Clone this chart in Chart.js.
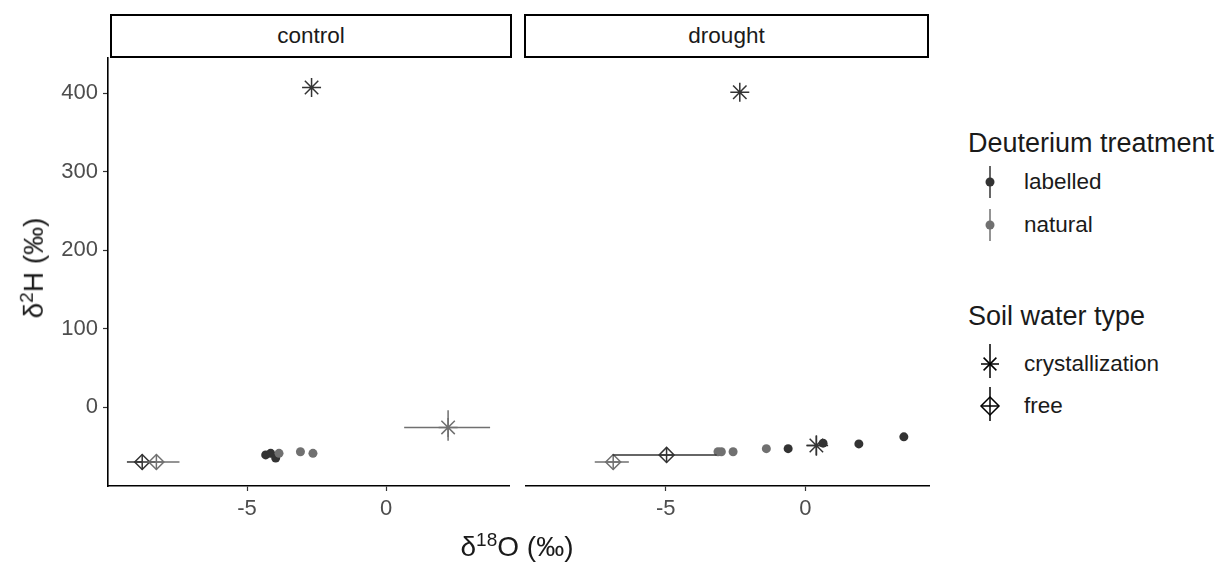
<!DOCTYPE html>
<html>
<head>
<meta charset="utf-8">
<script src="https://cdn.jsdelivr.net/npm/chart.js@4.4.1/dist/chart.umd.min.js"></script>
<style>
  body { margin: 0; background: #fff; font-family: "Liberation Sans", Arial, sans-serif; }
  #wrap { position: relative; width: 1220px; height: 567px; overflow: hidden; }
  canvas { position: absolute; top: 40px; }
  .strip { position: absolute; top: 14px; height: 40px; border: 2px solid #000; background: #fff;
           font-size: 22.5px; color: #1a1a1a; text-align: center; line-height: 40px; }
  .title { position: absolute; color: #1a1a1a; font-size: 28px; white-space: nowrap; }
  .title sup { font-size: 19px; }
  .leg { position: absolute; white-space: nowrap; }
  .legTitle { font-size: 27px; color: #1a1a1a; }
  .legItem { font-size: 22.5px; color: #1a1a1a; }
  svg { position: absolute; overflow: visible; }
</style>
</head>
<body>
<div id="wrap">
  <canvas id="cControl" width="520" height="500" style="left:0px"></canvas>
  <canvas id="cDrought" width="430" height="500" style="left:515px"></canvas>

  <div class="strip" style="left:110px; width:398px">control</div>
  <div class="strip" style="left:524px; width:401px">drought</div>

  <div class="title" style="left:517px; top:529px; transform: translateX(-50%)">&delta;<sup>18</sup>O (&permil;)</div>
  <div class="title" style="left:33px; top:268px; transform: translate(-50%,-50%) rotate(-90deg)">&delta;<sup>2</sup>H (&permil;)</div>

  <div class="leg legTitle" style="left:968px; top:128px">Deuterium treatment</div>
  <svg style="left:990px; top:182px" width="1" height="1">
    <line x1="0" y1="-16" x2="0" y2="16" stroke="#333" stroke-width="1.5"/>
    <circle cx="0" cy="0" r="4.5" fill="#333"/>
  </svg>
  <div class="leg legItem" style="left:1024px; top:169px">labelled</div>
  <svg style="left:990px; top:225px" width="1" height="1">
    <line x1="0" y1="-16" x2="0" y2="16" stroke="#707070" stroke-width="1.5"/>
    <circle cx="0" cy="0" r="4.5" fill="#707070"/>
  </svg>
  <div class="leg legItem" style="left:1024px; top:212px">natural</div>

  <div class="leg legTitle" style="left:968px; top:301px">Soil water type</div>
  <svg style="left:990px; top:364px" width="1" height="1" stroke="#000" stroke-width="1.5" fill="none">
    <line x1="0" y1="-20" x2="0" y2="14"/>
    <line x1="-9" y1="0" x2="9" y2="0"/>
    <line x1="-6.4" y1="-6.4" x2="6.4" y2="6.4"/>
    <line x1="-6.4" y1="6.4" x2="6.4" y2="-6.4"/>
  </svg>
  <div class="leg legItem" style="left:1024px; top:351px">crystallization</div>
  <svg style="left:990px; top:406px" width="1" height="1" stroke="#000" stroke-width="1.5" fill="none">
    <line x1="0" y1="-19" x2="0" y2="15"/>
    <line x1="-9" y1="0" x2="9" y2="0"/>
    <polygon points="0,-9 9,0 0,9 -9,0"/>
  </svg>
  <div class="leg legItem" style="left:1024px; top:393px">free</div>
</div>

<script>
const xTicks = [-5, 0];
const yTicks = [0, 100, 200, 300, 400];
const treatments = ['labelled', 'natural'];
const soilTypes = ['crystallization', 'free'];

// control - xylem / plant water (dots)
const ctrlDotX = [-4.33, -4.15, -3.97, -3.85, -3.08, -2.63];
const ctrlDotY = [-61, -59, -65, -59, -57, -59];
const ctrlDotTreat = ['labelled', 'labelled', 'labelled', 'natural', 'natural', 'natural'];

// control - soil water (mean + error bars)
const ctrlSoilType = ['crystallization', 'crystallization', 'free', 'free'];
const ctrlSoilTreat = ['labelled', 'natural', 'labelled', 'natural'];
const ctrlSoilX = [-2.68, 2.23, -8.77, -8.26];
const ctrlSoilY = [407, -26, -70, -70];
const ctrlSoilXMin = [-2.68, 0.65, -9.32, -8.75];
const ctrlSoilXMax = [-2.68, 3.74, -8.30, -7.43];
const ctrlSoilYMin = [407, -43, -70, -70];
const ctrlSoilYMax = [407, -4, -70, -70];

// drought - xylem / plant water (dots)
const drgtDotX = [-3.13, -3.01, -2.59, -1.40, -0.62, 0.63, 1.91, 3.52];
const drgtDotY = [-57, -57, -57, -53, -53, -46, -47, -38];
const drgtDotTreat = ['natural', 'natural', 'natural', 'natural', 'labelled', 'labelled', 'labelled', 'labelled'];

// drought - soil water
const drgtSoilType = ['crystallization', 'crystallization', 'free', 'free'];
const drgtSoilTreat = ['labelled', 'labelled', 'natural', 'labelled'];
const drgtSoilX = [-2.35, 0.39, -6.88, -4.97];
const drgtSoilY = [401, -49, -70, -61];
const drgtSoilXMin = [-2.35, 0.03, -7.54, -6.90];
const drgtSoilXMax = [-2.35, 0.81, -6.32, -3.18];
const drgtSoilYMin = [401, -62, -70, -61];
const drgtSoilYMax = [401, -36, -70, -61];

const colours = { labelled: '#333333', natural: '#707070' };
const tickFont = { family: 'Liberation Sans', size: 22 };

// error bars drawn through the chart's own scales
const errorBars = {
  id: 'errorBars',
  afterDatasetsDraw(chart, args, opts) {
    const { ctx, scales: { x, y } } = chart;
    const s = opts.soil;
    ctx.save();
    ctx.lineWidth = 1.5;
    for (let i = 0; i < s.x.length; i++) {
      ctx.strokeStyle = colours[s.treat[i]];
      const px = x.getPixelForValue(s.x[i]);
      const py = y.getPixelForValue(s.y[i]);
      ctx.beginPath();
      if (s.xMin[i] !== s.xMax[i]) {
        ctx.moveTo(x.getPixelForValue(s.xMin[i]), py);
        ctx.lineTo(x.getPixelForValue(s.xMax[i]), py);
      }
      if (s.yMin[i] !== s.yMax[i]) {
        ctx.moveTo(px, y.getPixelForValue(s.yMin[i]));
        ctx.lineTo(px, y.getPixelForValue(s.yMax[i]));
      }
      ctx.stroke();
    }
    ctx.restore();
  }
};

function pick(xs, ys, cond) {
  const out = [];
  xs.forEach((v, i) => { if (cond(i)) out.push({ x: v, y: ys[i], i: i }); });
  return out;
}

// chart area is set explicitly in pixels of the canvas (panel frame)
function makePanel(id, dot, soil, showY, area) {
  const stars = pick(soil.x, soil.y, i => soil.type[i] === 'crystallization');
  const free = pick(soil.x, soil.y, i => soil.type[i] === 'free');
  const dots = pick(dot.x, dot.y, () => true);
  const soilCol = c => colours[soil.treat[c.raw.i]];
  const dotCol = c => colours[dot.treat[c.raw.i]];
  const canvas = document.getElementById(id);

  new Chart(canvas, {
    type: 'scatter',
    data: {
      datasets: [
        { data: dots, pointStyle: 'circle', pointRadius: 4.5, borderWidth: 0,
          backgroundColor: dotCol, borderColor: dotCol },
        { data: stars, pointStyle: 'star', pointRadius: 9.5, borderWidth: 1.5,
          borderColor: soilCol, backgroundColor: 'transparent' },
        { data: free, pointStyle: 'rectRot', pointRadius: 7.5, borderWidth: 1.5,
          borderColor: soilCol, backgroundColor: 'transparent' },
        { data: free, pointStyle: 'cross', pointRadius: 7.5, borderWidth: 1.5,
          borderColor: soilCol, backgroundColor: 'transparent' }
      ]
    },
    options: {
      responsive: false,
      animation: false,
      devicePixelRatio: 1,
      layout: { padding: { top: area.top, bottom: 0, left: showY ? 0 : area.left, right: canvas.width - area.right } },
      plugins: {
        legend: { display: false },
        tooltip: { enabled: false },
        errorBars: { soil: soil }
      },
      scales: {
        x: {
          type: 'linear', min: -10.0, max: 4.42,
          afterBuildTicks: s => { s.ticks = xTicks.map(v => ({ value: v })); },
          afterFit: s => { s.height = canvas.height - area.bottom; s.paddingLeft = 0; s.paddingRight = 0; },
          ticks: { font: tickFont, color: '#4d4d4d', padding: 5, maxRotation: 0 },
          grid: { drawOnChartArea: false, drawTicks: true, tickLength: 5, tickColor: '#333', tickWidth: 1.2 },
          border: { display: true, color: '#000', width: 1.6 }
        },
        y: {
          type: 'linear', min: -100.6, max: 444.6, display: showY,
          afterBuildTicks: s => { s.ticks = yTicks.map(v => ({ value: v })); },
          afterFit: s => { s.width = showY ? area.left : 0; s.paddingTop = 0; s.paddingBottom = 0; },
          ticks: { font: tickFont, color: '#4d4d4d', padding: 5 },
          grid: { drawOnChartArea: false, drawTicks: true, tickLength: 5, tickColor: '#333', tickWidth: 1.2 },
          border: { display: true, color: '#000', width: 1.6 }
        }
      }
    },
    plugins: [errorBars]
  });
}

makePanel('cControl',
  { x: ctrlDotX, y: ctrlDotY, treat: ctrlDotTreat },
  { type: ctrlSoilType, treat: ctrlSoilTreat, x: ctrlSoilX, y: ctrlSoilY,
    xMin: ctrlSoilXMin, xMax: ctrlSoilXMax, yMin: ctrlSoilYMin, yMax: ctrlSoilYMax },
  true, { left: 108, right: 512, top: 18, bottom: 446 });

makePanel('cDrought',
  { x: drgtDotX, y: drgtDotY, treat: drgtDotTreat },
  { type: drgtSoilType, treat: drgtSoilTreat, x: drgtSoilX, y: drgtSoilY,
    xMin: drgtSoilXMin, xMax: drgtSoilXMax, yMin: drgtSoilYMin, yMax: drgtSoilYMax },
  false, { left: 9, right: 414, top: 18, bottom: 446 });
</script>
</body>
</html>
